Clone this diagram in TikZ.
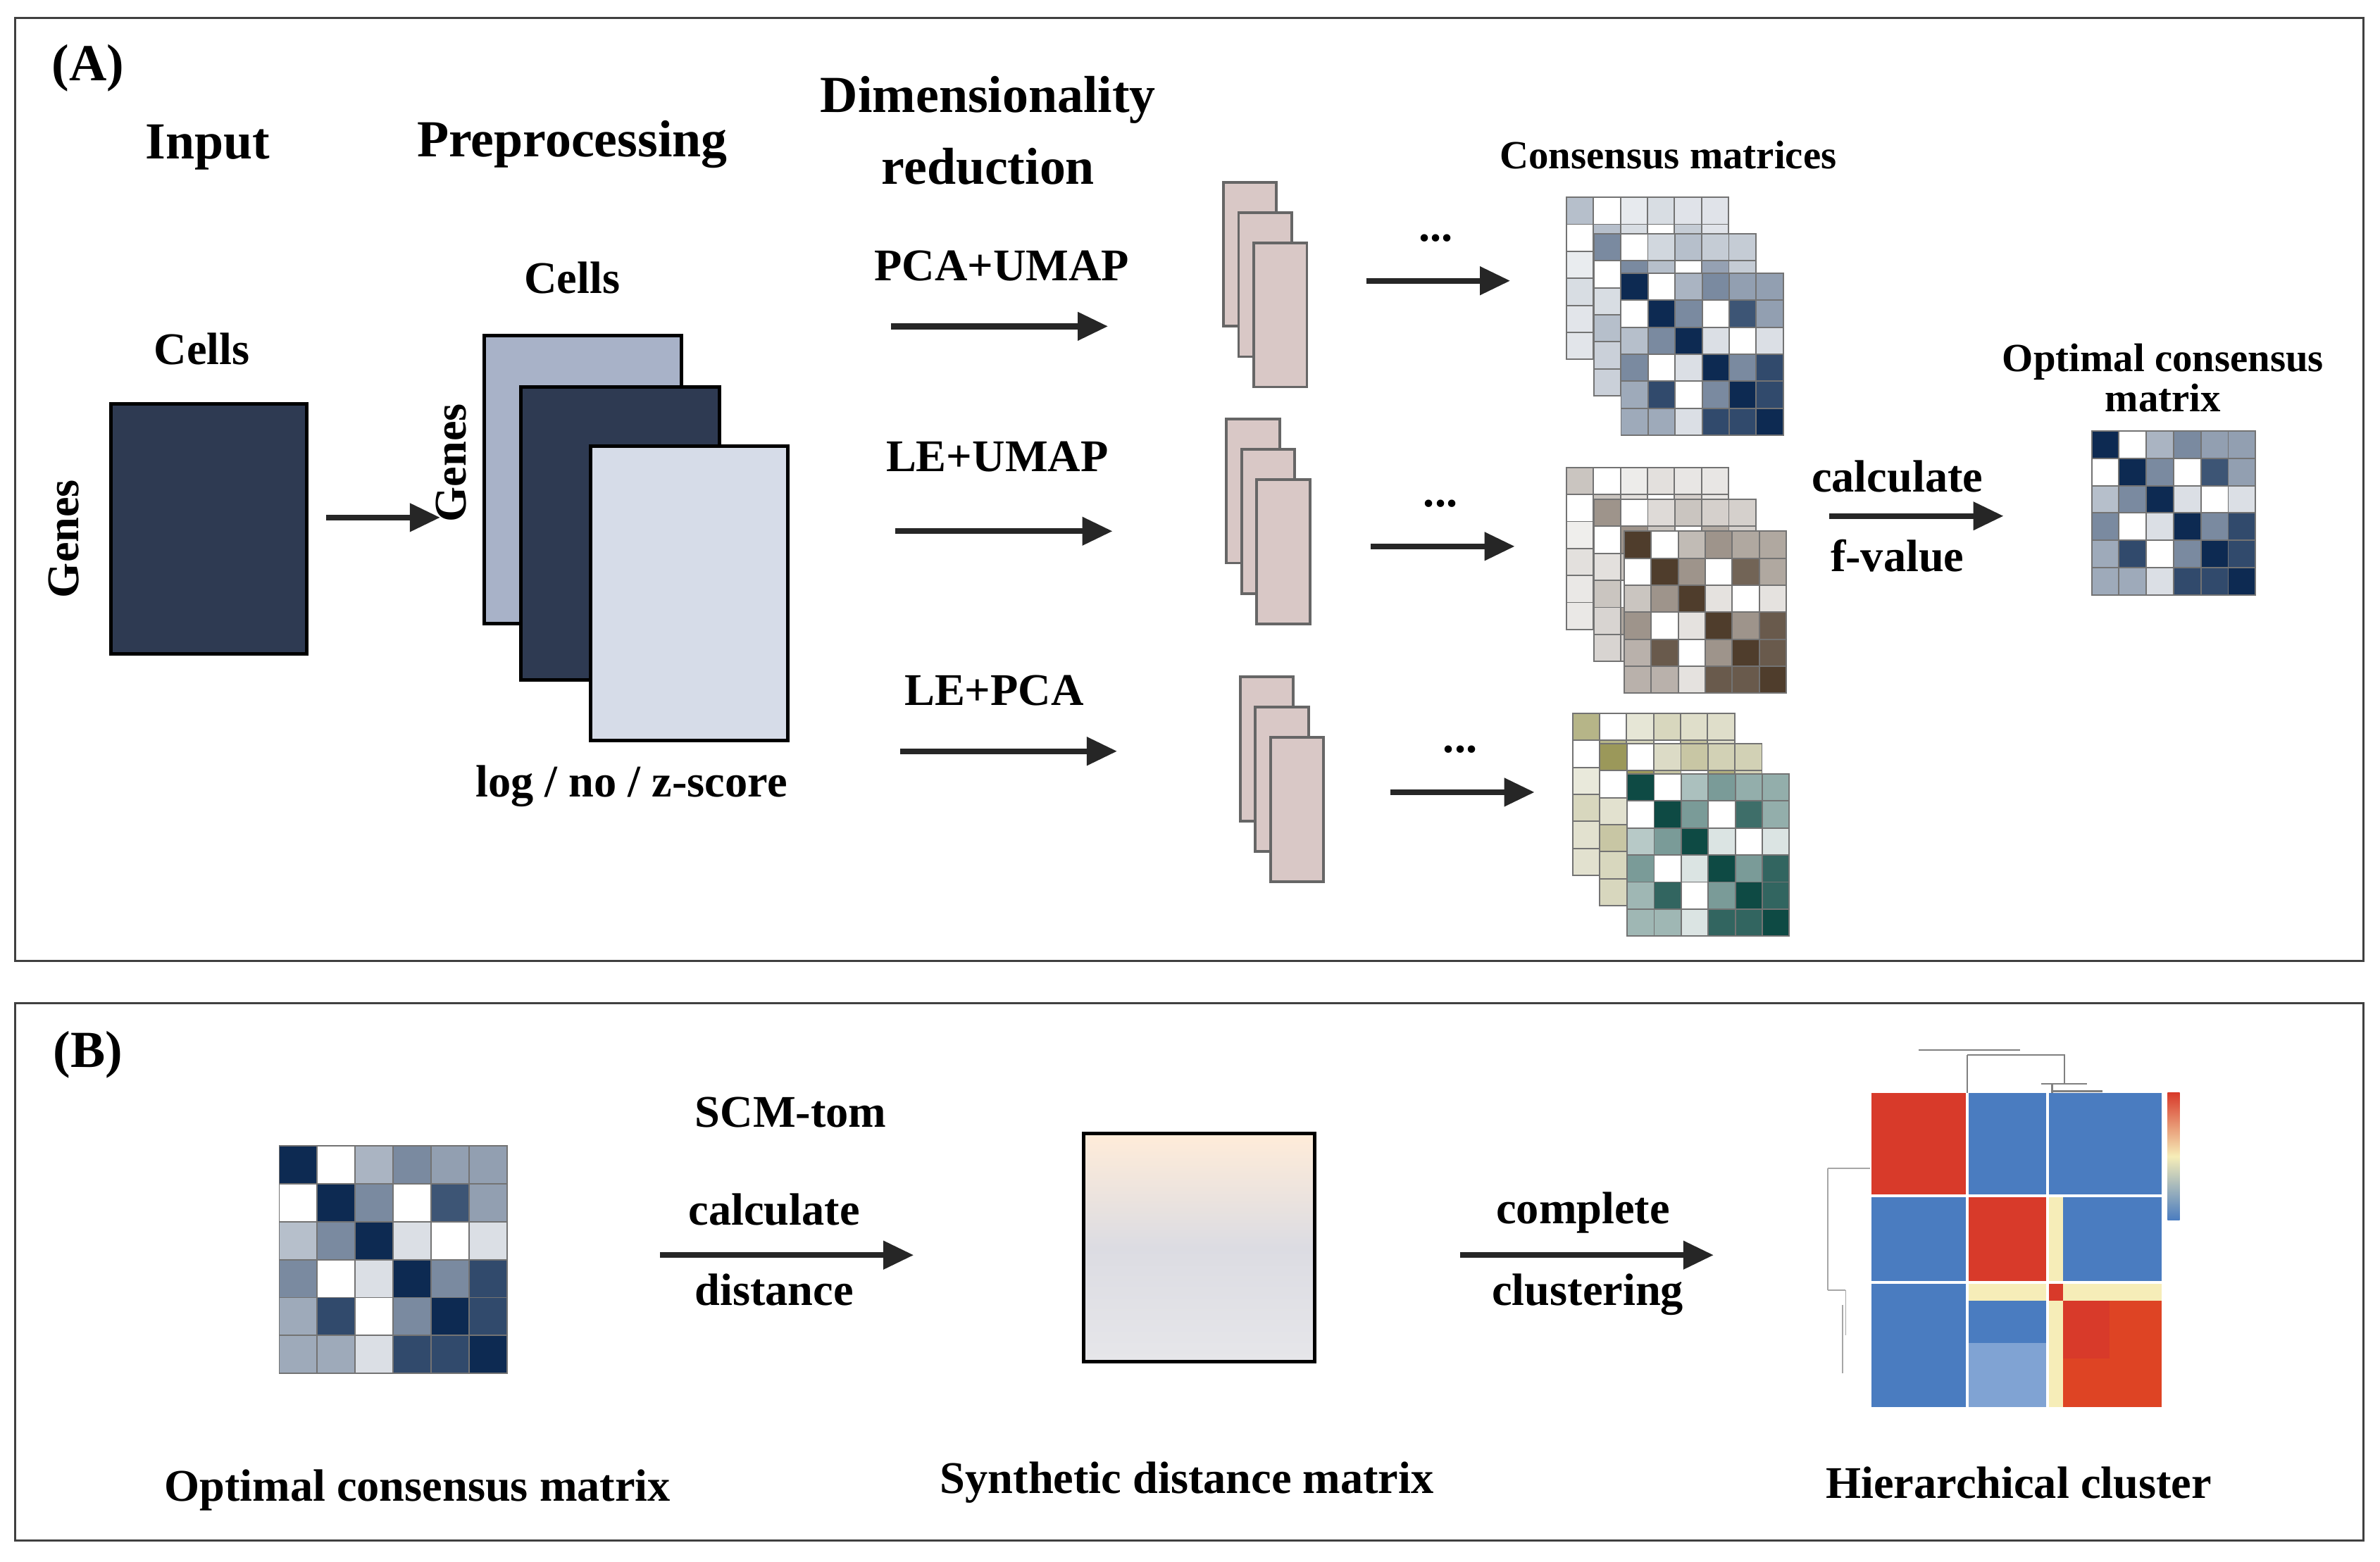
\documentclass[tikz,border=0pt]{standalone}
\usepackage{fontspec}
\setmainfont{Liberation Serif}
\usetikzlibrary{arrows.meta}
\definecolor{navy}{HTML}{0D2A52}
\definecolor{darkbox}{HTML}{2E3A52}
\definecolor{sheetA}{HTML}{A8B2C8}
\definecolor{sheetC}{HTML}{D6DCE8}
\definecolor{slicec}{HTML}{D9C8C6}
\definecolor{brownc}{HTML}{4F3D2C}
\definecolor{olivec}{HTML}{6E6A10}
\definecolor{tealc}{HTML}{0E4A44}
\definecolor{hmred}{HTML}{D83A2A}
\definecolor{hmblue}{HTML}{4A7CC0}
\definecolor{hmyel}{HTML}{F6EDB8}
% 6x6 matrix: x, y, colour, intensity factor, cell size
\newcommand{\consmat}[5]{%
  \foreach \r/\row in {0/{100,0,35,55,45,45},1/{0,100,55,0,80,45},2/{30,55,100,15,0,15},
                       3/{55,0,15,100,55,85},4/{40,85,0,55,100,85},5/{40,40,15,85,85,100}} {
    \foreach \v [count=\c from 0] in \row {
      \pgfmathtruncatemacro\w{\v*#4}
      \draw[cell, fill=#3!\w!white] (#1+\c*#5,#2+\r*#5) rectangle ++(#5,#5);
    }
  }
}

\begin{document}
\begin{tikzpicture}[
    x=0.02cm, y=-0.02cm,
    frame/.style={draw=black!75, line width=0.8pt},
    head/.style={font=\bfseries\fontsize{19.5}{23}\selectfont, align=center},
    lab/.style={font=\bfseries\fontsize{17}{20}\selectfont, align=center},
    small/.style={font=\bfseries\fontsize{15}{17}\selectfont, align=center},
    arrow/.style={-{Triangle[length=4mm,width=3.6mm]}, line width=2.2pt, black!85},
    sheet/.style={draw=black, line width=1.3pt},
    slice/.style={draw=black!60, fill=slicec, line width=1pt},
    cell/.style={draw=black!55, line width=0.5pt}
]
\useasboundingbox (0,0) rectangle (1568,1029);

% panel frames
\draw[frame] (10,12) rectangle (1557,633);
\draw[frame] (10,661) rectangle (1557,1015);
\node[head] (pa) at (58,45) {(A)};
\node[head] (pb) at (58,695) {(B)};

% headings
\node[head] (hin) at (137,97) {Input};
\node[head] (hpre) at (377,95) {Preprocessing};
\node[head] (hdim) at (651,86) {Dimensionality\\[4pt]reduction};
\node[small] (hcons) at (1099,102) {Consensus matrices};

% input
\node[lab] (cin) at (133,230) {Cells};
\node[lab, rotate=90] (gin) at (42,355) {Genes};
\draw[sheet, fill=darkbox] (73,266) rectangle (202,431);
\coordinate (in1) at (215,341);
\coordinate (in2) at (290,341);
\draw[arrow] (in1) -- (in2);

% preprocessing
\node[lab] (cpre) at (377,183) {Cells};
\node[lab, rotate=90] (gpre) at (297,305) {Genes};
\draw[sheet, fill=sheetA] (319,221) rectangle (449,411);
\draw[sheet, fill=darkbox] (343,255) rectangle (474,448);
\draw[sheet, fill=sheetC] (389,294) rectangle (519,488);
\node[lab] (norm) at (416,518) {log / no / z-score};

% dimensionality reduction
\node[lab] (m1) at (660,175) {PCA+UMAP};
\node[lab] (m2) at (657,301) {LE+UMAP};
\node[lab] (m3) at (655,455) {LE+PCA};
\foreach \i/\xa/\xb/\y in {1/587/730/215, 2/590/733/350, 3/593/736/495} {
  \coordinate (d\i a) at (\xa,\y);
  \coordinate (d\i b) at (\xb,\y);
  \draw[arrow] (d\i a) -- (d\i b);
}
\foreach \x/\y in {806/120, 808/276, 817/446} {
  \foreach \k in {0,1,2} {
    \draw[slice] (\x+\k*10,\y+\k*20) rectangle ++(35,95);
  }
}
\foreach \i/\xa/\xb/\y in {1/900/995/185, 2/903/998/360, 3/916/1011/522} {
  \node[lab] (dots\i) at (\xa+46,\y-28) {...};
  \coordinate (e\i a) at (\xa,\y);
  \coordinate (e\i b) at (\xb,\y);
  \draw[arrow] (e\i a) -- (e\i b);
}

% consensus matrices
\consmat{1032}{130}{navy}{0.3}{17.8}
\consmat{1050}{154}{navy}{0.55}{17.8}
\consmat{1068}{180}{navy}{1}{17.8}
\consmat{1032}{308}{brownc}{0.3}{17.8}
\consmat{1050}{329}{brownc}{0.55}{17.8}
\consmat{1070}{350}{brownc}{1}{17.8}
\consmat{1036}{470}{olivec}{0.5}{17.8}
\consmat{1054}{490}{olivec}{0.7}{17.8}
\consmat{1072}{510}{tealc}{1}{17.8}

\node[lab] (calc) at (1250,314) {calculate};
\node[lab] (fval) at (1250,366) {f-value};
\coordinate (f1) at (1205,340);
\coordinate (f2) at (1320,340);
\draw[arrow] (f1) -- (f2);
\node[small] (hopt) at (1425,249) {Optimal consensus\\[-2pt]matrix};
\consmat{1378}{284}{navy}{1}{18}

% panel B
\consmat{184}{755}{navy}{1}{25}
\node[lab] (lopt) at (275,982) {Optimal consensus matrix};
\node[lab] (scm) at (521,733) {SCM-tom};
\node[lab] (cd1) at (510,797) {calculate};
\node[lab] (cd2) at (510,850) {distance};
\coordinate (b1a) at (435,827);
\coordinate (b1b) at (602,827);
\draw[arrow] (b1a) -- (b1b);

\shade[top color=orange!15, bottom color=blue!8!gray!18, middle color=blue!10!gray!25]
  (714,747) rectangle (866,897);
\draw[sheet] (714,747) rectangle (866,897);
\node[lab] (lsyn) at (782,977) {Synthetic distance matrix};

\node[lab] (cc1) at (1043,799) {complete};
\node[lab] (cc2) at (1046,853) {clustering};
\coordinate (b2a) at (962,827);
\coordinate (b2b) at (1129,827);
\draw[arrow] (b2a) -- (b2b);

% heatmap
\fill[hmblue] (1233,720) rectangle (1424,927);
\fill[hmred] (1233,720) rectangle (1296,788);
\fill[hmred] (1296,788) rectangle (1349,845);
\fill[hmred!85!orange] (1359,857) rectangle (1424,927);
\fill[hmred] (1359,857) rectangle (1390,895);
\fill[hmyel] (1349,788) rectangle (1359,927);
\fill[hmyel] (1296,845) rectangle (1424,857);
\fill[hmred] (1349,845) rectangle (1359,857);
\fill[hmblue!70!white] (1296,885) rectangle (1349,927);
\foreach \x in {1296,1349} \draw[white, line width=1.2pt] (\x,720) -- (\x,927);
\foreach \y in {788,845} \draw[white, line width=1.2pt] (1233,\y) -- (1424,\y);
\shade[top color=hmred, bottom color=hmblue, middle color=hmyel] (1428,720) rectangle (1436,804);
% dendrograms
\draw[gray, line width=0.6pt] (1264,692) -- (1331,692)
  (1296,695) -- (1296,720) (1296,695) -- (1360,695) -- (1360,714)
  (1345,714) -- (1375,714) (1352,714) -- (1352,720)
  (1352,719) -- (1385,719);
\draw[gray!70, line width=0.5pt] (1204,770) -- (1232,770) (1204,770) -- (1204,850)
  (1204,850) -- (1216,850) (1216,850) -- (1216,880) (1214,860) -- (1214,905);
\node[lab] (lhc) at (1330,977) {Hierarchical cluster};
\end{tikzpicture}
\end{document}
